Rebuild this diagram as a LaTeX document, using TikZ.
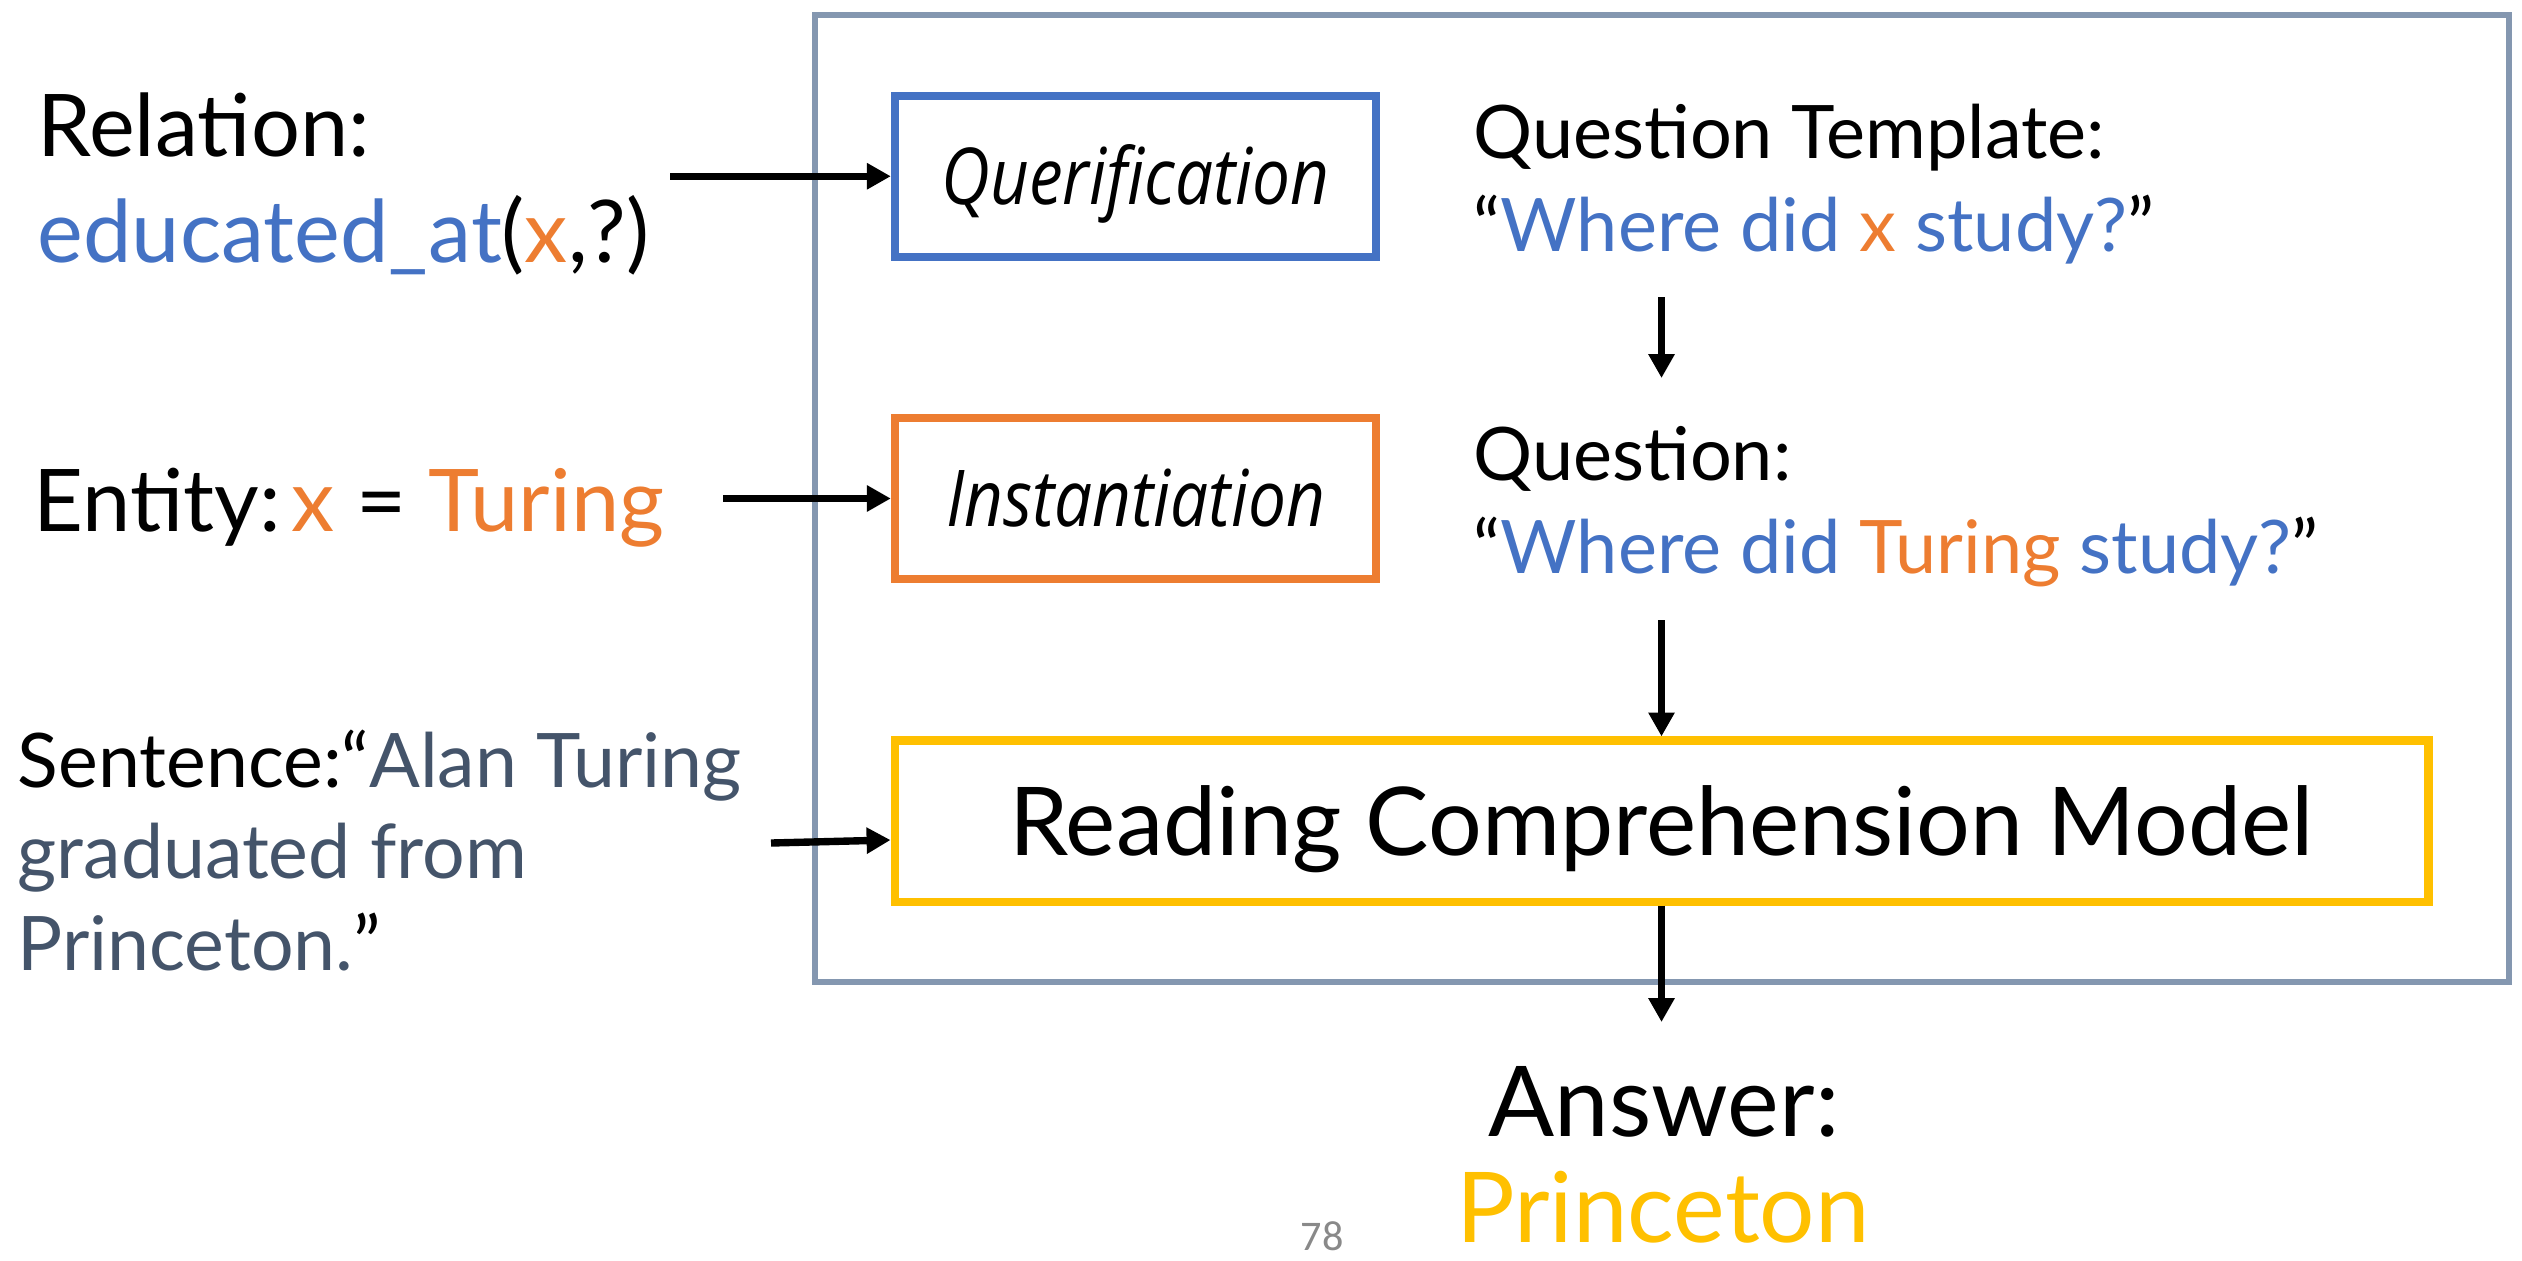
\documentclass[tikz,border=0pt]{standalone}
\usepackage{fontspec}
\setmainfont{Lato}
\newfontfamily\boxfont{Open Sans}[FakeStretch=0.86]
\newfontfamily\numfont{Carlito}
\usetikzlibrary{arrows.meta,calc}
\definecolor{qblue}{HTML}{4472C4}
\definecolor{qorange}{HTML}{ED7D31}
\definecolor{qyellow}{HTML}{FFC000}
\definecolor{slate}{HTML}{44546A}
\definecolor{framegray}{HTML}{8497B0}
\definecolor{pagegray}{HTML}{898989}
\frenchspacing
\begin{document}
\begin{tikzpicture}[x=0.01cm,y=-0.01cm,
  arr/.style={line width=2.1pt,-{Triangle[length=6.8pt,width=7.1pt]}},
  txt/.style={inner sep=0pt,anchor=base west},
  big/.style={font=\fontsize{24.6}{29}\selectfont},
  sent/.style={font=\fontsize{21.4}{26}\selectfont},
  mid/.style={font=\fontsize{21}{25}\selectfont},
  large/.style={font=\fontsize{27.8}{33}\selectfont},
  stagebox/.style={draw,line width=2.3pt,inner sep=0pt,fill=white,
    minimum width=4.81cm,minimum height=1.605cm,text height=15.9pt,text depth=0pt,
    font=\boxfont\itshape\fontsize{22.3}{27}\selectfont},
  modelbox/.style={draw=qyellow,line width=2.3pt,inner sep=0pt,fill=white,
    minimum width=15.33cm,minimum height=1.61cm,text height=19.35pt,text depth=0pt,
    font=\fontsize{27}{32}\selectfont}]
\useasboundingbox (0,0) rectangle (2522,1260);

% enclosing frame of the pipeline
\node[draw=framegray,line width=1.7pt,inner sep=0pt,
  minimum width=16.93cm,minimum height=9.67cm] (frame) at (1661.5,498.5) {};

% inputs on the left
\node[txt,big] (rel) at (37,156) {Relation:};
\node[txt,big] (relfn) at (37,262) {\textcolor{qblue}{educated\_at}(\textcolor{qorange}{x},?)};
\node[txt,big] (ent) at (33,531) {Entity:\hspace{0.12em}\textcolor{qorange}{x} = \textcolor{qorange}{Turing}};
\node[txt,sent] (sent1) at (17,787) {Sentence:“\textcolor{slate}{Alan Turing}};
\node[txt,sent,text=slate] (sent2) at (17,878) {graduated from};
\node[txt,sent] (sent3) at (17,970) {\textcolor{slate}{Princeton.}”};

% processing stages
\node[stagebox,draw=qblue] (quer) at (1135.5,176.25) {Querification};
\node[stagebox,draw=qorange] (inst) at (1135.5,498.5) {Instantiation};
\node[modelbox] (rc) at (1661.5,821) {Reading Comprehension Model};

% intermediate questions
\node[txt,mid] (qt) at (1473,158) {Question Template:};
\node[txt,mid] (qtx) at (1473,251) {“\textcolor{qblue}{Where did} \textcolor{qorange}{x} \textcolor{qblue}{study?}”};
\node[txt,mid] (qq) at (1473,480) {Question:};
\node[txt,mid] (qqx) at (1473,573) {“\textcolor{qblue}{Where did} \textcolor{qorange}{Turing} \textcolor{qblue}{study?}”};

% output
\node[inner sep=0pt,anchor=base,large] (ans) at (1664,1136) {Answer:};
\node[inner sep=0pt,anchor=base,large,text=qyellow] (ansv) at (1663,1242) {Princeton};
\node[txt,text=pagegray,font=\numfont\fontsize{12}{14}\selectfont] (pg) at (1300,1250) {78};

% connectors
\coordinate (relstart) at (670,176.25);
\coordinate (entstart) at (723,498.5);
\coordinate (sentstart) at (771,843);
\coordinate (tmplend) at (1661.5,297);
\coordinate (qstart) at (1661.5,378);
\coordinate (qend) at (1661.5,620);
\coordinate (ansend) at (1661.5,1022);
\draw[arr] (relstart) -- (quer.west);
\draw[arr] (entstart) -- (inst.west);
\draw[arr] (sentstart) -- ($(rc.west)+(0,19)$);
\draw[arr] (tmplend) -- (qstart);
\draw[arr] (qend) -- (rc.north);
\draw[arr] (rc.south) -- (ansend);
\end{tikzpicture}
\end{document}
